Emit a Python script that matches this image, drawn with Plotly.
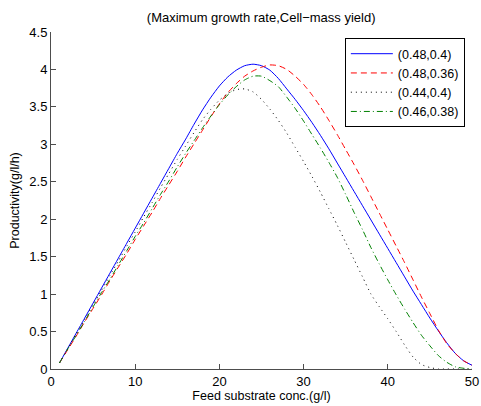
import plotly.graph_objects as go

x_vals = list(range(1, 51))

blue_048_04 = [0.08, 0.28, 0.48, 0.68, 0.88, 1.08, 1.28, 1.48, 1.68, 1.88,
               2.08, 2.28, 2.48, 2.68, 2.88, 3.07, 3.27, 3.46, 3.63, 3.78,
               3.90, 3.99, 4.05, 4.07, 4.05, 3.99, 3.88, 3.74, 3.60, 3.45,
               3.29, 3.12, 2.94, 2.75, 2.56, 2.37, 2.18, 1.99, 1.80, 1.61,
               1.42, 1.23, 1.04, 0.86, 0.68, 0.51, 0.35, 0.21, 0.11, 0.05]

red_048_036 = [0.08, 0.26, 0.44, 0.63, 0.81, 0.99, 1.18, 1.36, 1.54, 1.73,
               1.91, 2.09, 2.28, 2.46, 2.64, 2.83, 3.01, 3.19, 3.37, 3.54,
               3.69, 3.81, 3.91, 3.98, 4.03, 4.06, 4.05, 4.00, 3.91, 3.80,
               3.66, 3.50, 3.32, 3.13, 2.93, 2.73, 2.52, 2.30, 2.08, 1.86,
               1.64, 1.42, 1.19, 0.96, 0.74, 0.52, 0.34, 0.21, 0.11, 0.05]

dot_044_04 = [0.08, 0.27, 0.47, 0.66, 0.86, 1.05, 1.25, 1.44, 1.64, 1.83,
              2.03, 2.22, 2.42, 2.61, 2.80, 2.98, 3.16, 3.33, 3.47, 3.59,
              3.68, 3.73, 3.74, 3.70, 3.60, 3.47, 3.32, 3.15, 2.96, 2.77,
              2.57, 2.36, 2.14, 1.92, 1.69, 1.46, 1.23, 1.00, 0.83, 0.67,
              0.50, 0.32, 0.16, 0.06, 0.02, 0.00, 0.00, 0.00, 0.00, 0.00]

green_046_038 = [0.08, 0.27, 0.45, 0.64, 0.83, 1.02, 1.20, 1.39, 1.58, 1.77,
                 1.95, 2.14, 2.33, 2.51, 2.70, 2.88, 3.05, 3.22, 3.38, 3.53,
                 3.66, 3.77, 3.86, 3.91, 3.91, 3.85, 3.77, 3.63, 3.48, 3.31,
                 3.13, 2.95, 2.76, 2.56, 2.33, 2.09, 1.86, 1.62, 1.40, 1.19,
                 0.99, 0.80, 0.62, 0.45, 0.31, 0.18, 0.09, 0.03, 0.01, 0.00]

series_names = ["(0.48,0.4)", "(0.48,0.36)", "(0.44,0.4)", "(0.46,0.38)"]
series_vals = [blue_048_04, red_048_036, dot_044_04, green_046_038]
series_colors = ["#0000ff", "#ff0000", "#000000", "#008000"]
series_dash = ["solid", "6px,4px", "1px,4px", "6px,3px,1px,3px"]

fig = go.Figure()
for name, vals, col, dash in zip(series_names, series_vals, series_colors, series_dash):
    fig.add_trace(go.Scatter(x=x_vals, y=vals, mode="lines", name=name,
                             line=dict(color=col, width=1, dash=dash, shape="spline", smoothing=0.6)))

axis_common = dict(showline=True, linecolor="#4d4d4d", linewidth=1, mirror=False,
                   ticks="inside", ticklen=5, tickcolor="#4d4d4d", showgrid=False,
                   zeroline=False, automargin=False, tickfont=dict(size=13, color="#000000"))

fig.update_layout(
    width=481, height=406,
    margin=dict(l=51, r=9, t=32, b=37, autoexpand=False),
    paper_bgcolor="white", plot_bgcolor="white",
    font=dict(family="Liberation Sans, Arial, sans-serif", size=12, color="#000000"),
    title=dict(text="(Maximum growth rate,Cell\u2212mass yield)", x=0.543, xanchor="center",
               y=1 - 17 / 406, yanchor="middle", font=dict(size=13)),
    xaxis=dict(range=[0, 50], dtick=10, title=dict(text="Feed substrate conc.(g/l)", standoff=3,
               font=dict(size=12.5)), **axis_common),
    yaxis=dict(range=[0, 4.5], dtick=0.5, title=dict(text="Productivity(g/l/h)", standoff=6,
               font=dict(size=12.5)), **axis_common),
    legend=dict(x=0.698, y=0.982, xanchor="left", yanchor="top", bgcolor="white",
                bordercolor="#000000", borderwidth=1, font=dict(size=12.5),
                tracegroupgap=0, itemwidth=42),
    showlegend=True,
)

fig.write_html("out.html")
